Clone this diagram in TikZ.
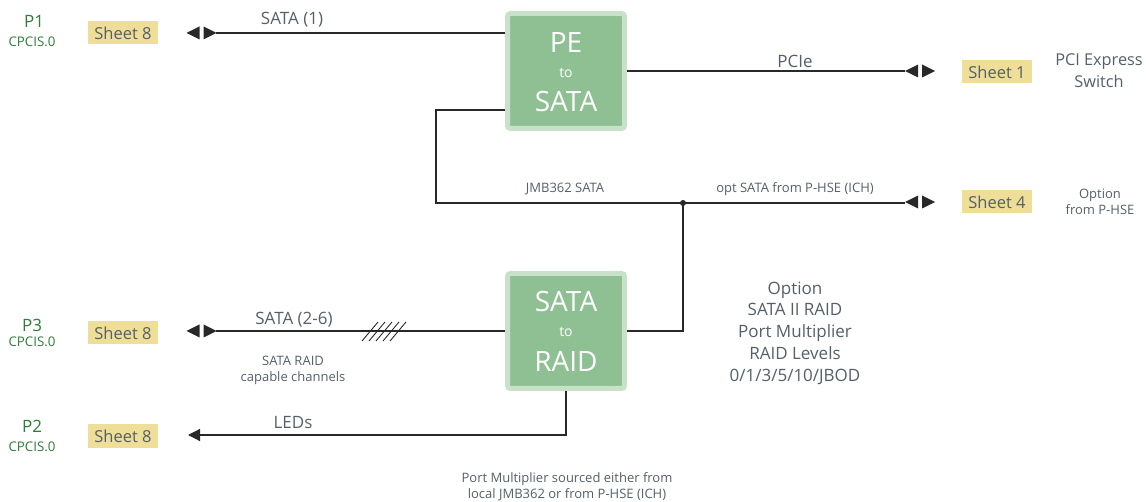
\documentclass[tikz,border=0pt]{standalone}
\usepackage{fontspec}
\setmainfont{Open Sans}
\usetikzlibrary{arrows.meta}
\definecolor{boxfill}{RGB}{143,192,147}
\definecolor{boxrim}{RGB}{200,225,200}
\definecolor{sheetfill}{RGB}{239,222,152}
\definecolor{txtgray}{RGB}{85,95,105}
\definecolor{pgreen}{RGB}{46,125,58}
\definecolor{wire}{RGB}{40,40,40}
\begin{document}
\begin{tikzpicture}[x=1pt,y=-1pt,
  conv/.style={draw=boxrim, line width=5pt, fill=boxfill, rounded corners=3pt, minimum width=117pt, minimum height=115pt, inner sep=0pt},
  bigw/.style={text=white, font=\fontsize{28}{30}\selectfont, inner sep=0pt},
  smallw/.style={text=white, font=\fontsize{14}{16}\selectfont, inner sep=0pt},
  sheet/.style={fill=sheetfill, text=txtgray, font=\fontsize{16.5}{19}\selectfont, minimum width=70pt, minimum height=23pt, inner sep=0pt},
  plabel/.style={text=pgreen, font=\fontsize{17}{19}\selectfont, inner sep=0pt},
  pcpc/.style={text=pgreen, font=\fontsize{13.3}{15}\selectfont, inner sep=0pt},
  lbl/.style={text=txtgray, font=\fontsize{17}{19}\selectfont, inner sep=0pt, align=center},
  slbl/.style={text=txtgray, font=\fontsize{13}{16}\selectfont, inner sep=0pt, align=center},
  conn/.style={draw=wire, line width=1.2pt},
  dbl/.pic={\fill[wire] (-15,0) -- (-2,-6.5) -- (-2,6.5) -- cycle; \fill[wire] (15,0) -- (2,-6.5) -- (2,6.5) -- cycle;}
]
\useasboundingbox (0,0) rectangle (1146,502);

% converter boxes
\node[conv] (pe) at (566,71) {};
\node[bigw] (pe1) at (566,43) {PE};
\node[smallw] (pe2) at (566,73) {to};
\node[bigw] (pe3) at (566,102) {SATA};

\node[conv] (raid) at (566,331) {};
\node[bigw] (ra1) at (566,302) {SATA};
\node[smallw] (ra2) at (566,332) {to};
\node[bigw] (ra3) at (566,361) {RAID};

% sheet boxes
\node[sheet] (s81) at (123,33) {Sheet 8};
\node[sheet] (s83) at (123,333) {Sheet 8};
\node[sheet] (s82) at (123,436) {Sheet 8};
\node[sheet] (s1) at (997,72) {Sheet 1};
\node[sheet] (s4) at (997,202) {Sheet 4};

% P labels
\node[plabel] (p1) at (34,21) {P1};
\node[pcpc] (p1c) at (32,42) {CPCIS.0};
\node[plabel] (p3) at (32,325) {P3};
\node[pcpc] (p3c) at (32,342) {CPCIS.0};
\node[plabel] (p2) at (32,426) {P2};
\node[pcpc] (p2c) at (32,447) {CPCIS.0};

% right labels
\node[lbl, font=\fontsize{16.3}{22}\selectfont] (pcis) at (1099,71) {PCI Express\\Switch};
\node[slbl] (optp) at (1100,202) {Option\\from P-HSE};

% arrow pictograms and end coordinates
\pic at (201.5,33) {dbl};
\pic at (920,71) {dbl};
\pic at (920,202) {dbl};
\pic at (201.5,331) {dbl};
\coordinate (e1) at (216,33);
\coordinate (e2) at (905,71);
\coordinate (e3) at (905,203);
\coordinate (e4) at (216,331);
\coordinate (e5) at (188,435);
\coordinate (j) at (683,203);

% connectors
\draw[conn] (e1) -- (pe.west |- e1);
\draw[conn] (pe.east |- e2) -- (e2);
\draw[conn] ([yshift=-39pt]pe.west) -- ++(-69,0) |- (e3);
\fill[wire] (j) circle (3pt);
\draw[conn] (j) |- (raid.east);
\draw[conn] (raid.west) -- (e4);
\draw[conn, -{Triangle[length=12pt,width=12pt]}] (raid.south) |- (e5);

% hash marks
\foreach \i in {0,...,4} {
  \draw[wire, line width=0.9pt] (362+7*\i,341) -- (378+7*\i,322);
}

% line labels
\node[lbl] (l1) at (292,20) {SATA (1)};
\node[lbl] (l2) at (795,61) {PCIe};
\node[slbl] (l3) at (565,189) {JMB362 SATA};
\node[slbl] (l4) at (795,189) {opt SATA from P-HSE (ICH)};
\node[lbl] (l5) at (294,320) {SATA (2-6)};
\node[slbl] (l6) at (293,370) {SATA RAID\\capable channels};
\node[lbl] (l7) at (293,423) {LEDs};
\node[lbl, font=\fontsize{17}{21.8}\selectfont] (opt) at (795,333) {Option\\SATA II RAID\\Port Multiplier\\RAID Levels\\0/1/3/5/10/JBOD};
\node[slbl] (bot) at (567,487) {Port Multiplier sourced either from\\local JMB362 or from P-HSE (ICH)};
\end{tikzpicture}
\end{document}
